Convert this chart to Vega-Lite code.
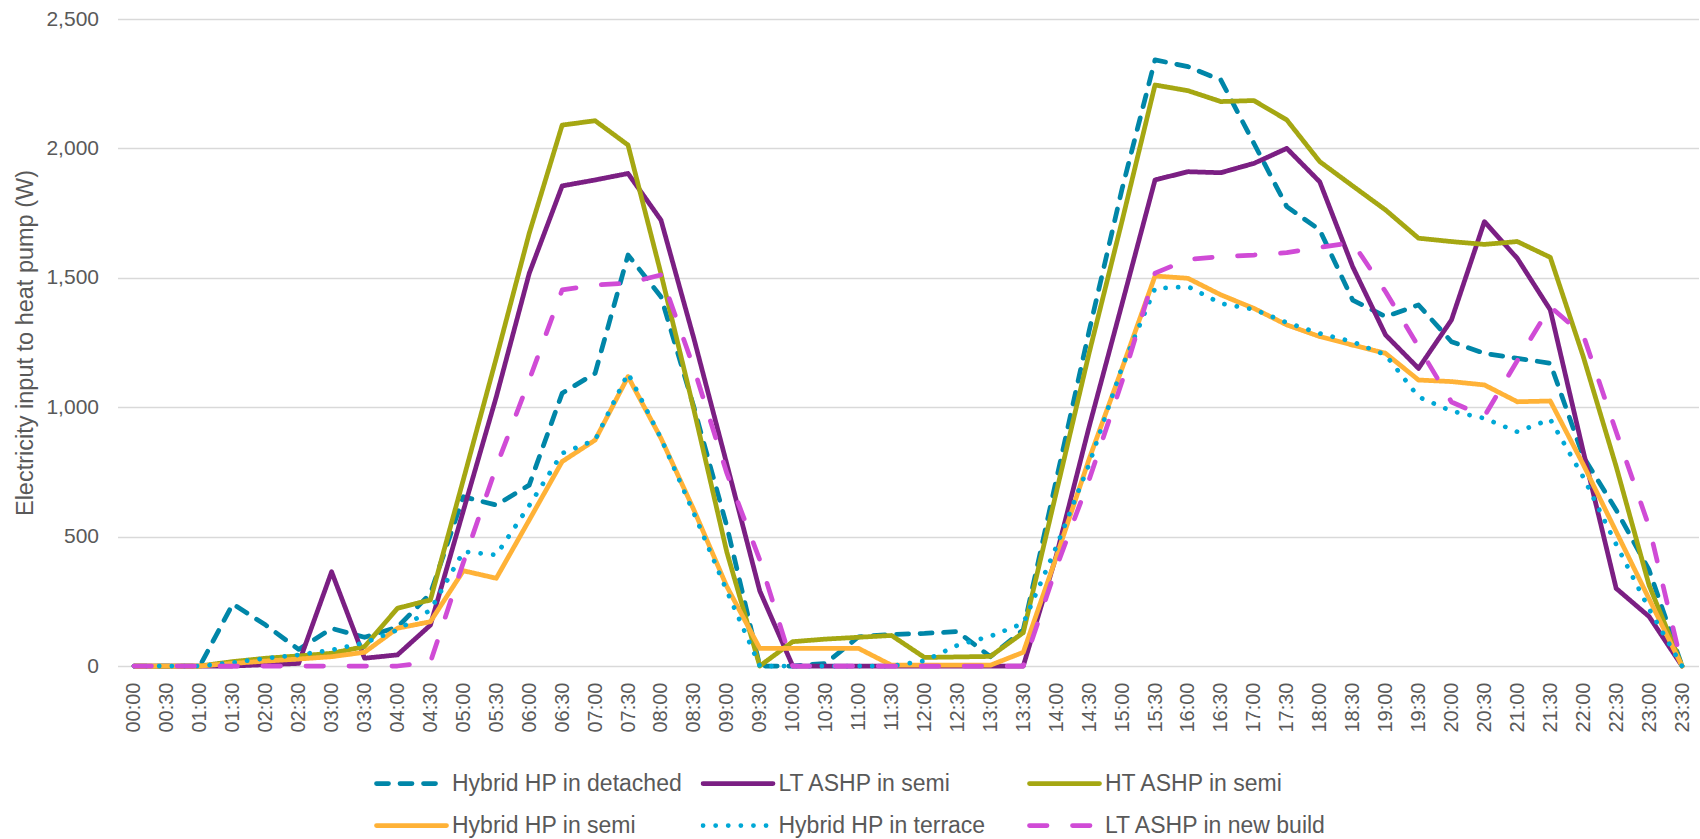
{
"$schema": "https://vega.github.io/schema/vega-lite/v6.json",
"width": 1581, "height": 647,
"autosize": {"type": "none"},
"padding": {"left": 117.5, "top": 19, "right": 1.5, "bottom": 173},
"background": "white",
"config": {"view": {"stroke": null}, "font": "Liberation Sans"},
"data": {"values": [
{"t":"00:00","s":"Hybrid HP in detached","v":0},{"t":"00:30","s":"Hybrid HP in detached","v":0},{"t":"01:00","s":"Hybrid HP in detached","v":0},{"t":"01:30","s":"Hybrid HP in detached","v":240},{"t":"02:00","s":"Hybrid HP in detached","v":158},{"t":"02:30","s":"Hybrid HP in detached","v":64},{"t":"03:00","s":"Hybrid HP in detached","v":145},{"t":"03:30","s":"Hybrid HP in detached","v":111},{"t":"04:00","s":"Hybrid HP in detached","v":150},{"t":"04:30","s":"Hybrid HP in detached","v":280},{"t":"05:00","s":"Hybrid HP in detached","v":654},{"t":"05:30","s":"Hybrid HP in detached","v":622},{"t":"06:00","s":"Hybrid HP in detached","v":699},{"t":"06:30","s":"Hybrid HP in detached","v":1054},{"t":"07:00","s":"Hybrid HP in detached","v":1131},{"t":"07:30","s":"Hybrid HP in detached","v":1588},{"t":"08:00","s":"Hybrid HP in detached","v":1427},{"t":"08:30","s":"Hybrid HP in detached","v":1000},{"t":"09:00","s":"Hybrid HP in detached","v":540},{"t":"09:30","s":"Hybrid HP in detached","v":0},{"t":"10:00","s":"Hybrid HP in detached","v":0},{"t":"10:30","s":"Hybrid HP in detached","v":10},{"t":"11:00","s":"Hybrid HP in detached","v":113},{"t":"11:30","s":"Hybrid HP in detached","v":122},{"t":"12:00","s":"Hybrid HP in detached","v":126},{"t":"12:30","s":"Hybrid HP in detached","v":133},{"t":"13:00","s":"Hybrid HP in detached","v":36},{"t":"13:30","s":"Hybrid HP in detached","v":140},{"t":"14:00","s":"Hybrid HP in detached","v":718},{"t":"14:30","s":"Hybrid HP in detached","v":1295},{"t":"15:00","s":"Hybrid HP in detached","v":1844},{"t":"15:30","s":"Hybrid HP in detached","v":2342},{"t":"16:00","s":"Hybrid HP in detached","v":2316},{"t":"16:30","s":"Hybrid HP in detached","v":2264},{"t":"17:00","s":"Hybrid HP in detached","v":2020},{"t":"17:30","s":"Hybrid HP in detached","v":1775},{"t":"18:00","s":"Hybrid HP in detached","v":1685},{"t":"18:30","s":"Hybrid HP in detached","v":1414},{"t":"19:00","s":"Hybrid HP in detached","v":1350},{"t":"19:30","s":"Hybrid HP in detached","v":1395},{"t":"20:00","s":"Hybrid HP in detached","v":1253},{"t":"20:30","s":"Hybrid HP in detached","v":1208},{"t":"21:00","s":"Hybrid HP in detached","v":1189},{"t":"21:30","s":"Hybrid HP in detached","v":1170},{"t":"22:00","s":"Hybrid HP in detached","v":809},{"t":"22:30","s":"Hybrid HP in detached","v":603},{"t":"23:00","s":"Hybrid HP in detached","v":371},{"t":"23:30","s":"Hybrid HP in detached","v":0},
{"t":"00:00","s":"LT ASHP in semi","v":0},{"t":"00:30","s":"LT ASHP in semi","v":0},{"t":"01:00","s":"LT ASHP in semi","v":0},{"t":"01:30","s":"LT ASHP in semi","v":0},{"t":"02:00","s":"LT ASHP in semi","v":5},{"t":"02:30","s":"LT ASHP in semi","v":10},{"t":"03:00","s":"LT ASHP in semi","v":364},{"t":"03:30","s":"LT ASHP in semi","v":30},{"t":"04:00","s":"LT ASHP in semi","v":43},{"t":"04:30","s":"LT ASHP in semi","v":158},{"t":"05:00","s":"LT ASHP in semi","v":600},{"t":"05:30","s":"LT ASHP in semi","v":1040},{"t":"06:00","s":"LT ASHP in semi","v":1517},{"t":"06:30","s":"LT ASHP in semi","v":1855},{"t":"07:00","s":"LT ASHP in semi","v":1878},{"t":"07:30","s":"LT ASHP in semi","v":1903},{"t":"08:00","s":"LT ASHP in semi","v":1723},{"t":"08:30","s":"LT ASHP in semi","v":1265},{"t":"09:00","s":"LT ASHP in semi","v":780},{"t":"09:30","s":"LT ASHP in semi","v":290},{"t":"10:00","s":"LT ASHP in semi","v":0},{"t":"10:30","s":"LT ASHP in semi","v":0},{"t":"11:00","s":"LT ASHP in semi","v":0},{"t":"11:30","s":"LT ASHP in semi","v":0},{"t":"12:00","s":"LT ASHP in semi","v":0},{"t":"12:30","s":"LT ASHP in semi","v":0},{"t":"13:00","s":"LT ASHP in semi","v":0},{"t":"13:30","s":"LT ASHP in semi","v":0},{"t":"14:00","s":"LT ASHP in semi","v":425},{"t":"14:30","s":"LT ASHP in semi","v":925},{"t":"15:00","s":"LT ASHP in semi","v":1400},{"t":"15:30","s":"LT ASHP in semi","v":1878},{"t":"16:00","s":"LT ASHP in semi","v":1910},{"t":"16:30","s":"LT ASHP in semi","v":1906},{"t":"17:00","s":"LT ASHP in semi","v":1942},{"t":"17:30","s":"LT ASHP in semi","v":2000},{"t":"18:00","s":"LT ASHP in semi","v":1871},{"t":"18:30","s":"LT ASHP in semi","v":1543},{"t":"19:00","s":"LT ASHP in semi","v":1279},{"t":"19:30","s":"LT ASHP in semi","v":1150},{"t":"20:00","s":"LT ASHP in semi","v":1337},{"t":"20:30","s":"LT ASHP in semi","v":1717},{"t":"21:00","s":"LT ASHP in semi","v":1575},{"t":"21:30","s":"LT ASHP in semi","v":1376},{"t":"22:00","s":"LT ASHP in semi","v":830},{"t":"22:30","s":"LT ASHP in semi","v":300},{"t":"23:00","s":"LT ASHP in semi","v":191},{"t":"23:30","s":"LT ASHP in semi","v":0},
{"t":"00:00","s":"HT ASHP in semi","v":0},{"t":"00:30","s":"HT ASHP in semi","v":0},{"t":"01:00","s":"HT ASHP in semi","v":0},{"t":"01:30","s":"HT ASHP in semi","v":17},{"t":"02:00","s":"HT ASHP in semi","v":30},{"t":"02:30","s":"HT ASHP in semi","v":39},{"t":"03:00","s":"HT ASHP in semi","v":49},{"t":"03:30","s":"HT ASHP in semi","v":75},{"t":"04:00","s":"HT ASHP in semi","v":223},{"t":"04:30","s":"HT ASHP in semi","v":255},{"t":"05:00","s":"HT ASHP in semi","v":720},{"t":"05:30","s":"HT ASHP in semi","v":1190},{"t":"06:00","s":"HT ASHP in semi","v":1672},{"t":"06:30","s":"HT ASHP in semi","v":2090},{"t":"07:00","s":"HT ASHP in semi","v":2107},{"t":"07:30","s":"HT ASHP in semi","v":2013},{"t":"08:00","s":"HT ASHP in semi","v":1516},{"t":"08:30","s":"HT ASHP in semi","v":990},{"t":"09:00","s":"HT ASHP in semi","v":440},{"t":"09:30","s":"HT ASHP in semi","v":0},{"t":"10:00","s":"HT ASHP in semi","v":94},{"t":"10:30","s":"HT ASHP in semi","v":104},{"t":"11:00","s":"HT ASHP in semi","v":111},{"t":"11:30","s":"HT ASHP in semi","v":118},{"t":"12:00","s":"HT ASHP in semi","v":33},{"t":"12:30","s":"HT ASHP in semi","v":35},{"t":"13:00","s":"HT ASHP in semi","v":37},{"t":"13:30","s":"HT ASHP in semi","v":129},{"t":"14:00","s":"HT ASHP in semi","v":670},{"t":"14:30","s":"HT ASHP in semi","v":1210},{"t":"15:00","s":"HT ASHP in semi","v":1720},{"t":"15:30","s":"HT ASHP in semi","v":2245},{"t":"16:00","s":"HT ASHP in semi","v":2223},{"t":"16:30","s":"HT ASHP in semi","v":2181},{"t":"17:00","s":"HT ASHP in semi","v":2185},{"t":"17:30","s":"HT ASHP in semi","v":2110},{"t":"18:00","s":"HT ASHP in semi","v":1949},{"t":"18:30","s":"HT ASHP in semi","v":1855},{"t":"19:00","s":"HT ASHP in semi","v":1762},{"t":"19:30","s":"HT ASHP in semi","v":1653},{"t":"20:00","s":"HT ASHP in semi","v":1640},{"t":"20:30","s":"HT ASHP in semi","v":1629},{"t":"21:00","s":"HT ASHP in semi","v":1640},{"t":"21:30","s":"HT ASHP in semi","v":1579},{"t":"22:00","s":"HT ASHP in semi","v":1196},{"t":"22:30","s":"HT ASHP in semi","v":771},{"t":"23:00","s":"HT ASHP in semi","v":312},{"t":"23:30","s":"HT ASHP in semi","v":0},
{"t":"00:00","s":"Hybrid HP in semi","v":0},{"t":"00:30","s":"Hybrid HP in semi","v":0},{"t":"01:00","s":"Hybrid HP in semi","v":0},{"t":"01:30","s":"Hybrid HP in semi","v":10},{"t":"02:00","s":"Hybrid HP in semi","v":19},{"t":"02:30","s":"Hybrid HP in semi","v":27},{"t":"03:00","s":"Hybrid HP in semi","v":36},{"t":"03:30","s":"Hybrid HP in semi","v":53},{"t":"04:00","s":"Hybrid HP in semi","v":146},{"t":"04:30","s":"Hybrid HP in semi","v":171},{"t":"05:00","s":"Hybrid HP in semi","v":368},{"t":"05:30","s":"Hybrid HP in semi","v":339},{"t":"06:00","s":"Hybrid HP in semi","v":564},{"t":"06:30","s":"Hybrid HP in semi","v":790},{"t":"07:00","s":"Hybrid HP in semi","v":873},{"t":"07:30","s":"Hybrid HP in semi","v":1118},{"t":"08:00","s":"Hybrid HP in semi","v":880},{"t":"08:30","s":"Hybrid HP in semi","v":603},{"t":"09:00","s":"Hybrid HP in semi","v":307},{"t":"09:30","s":"Hybrid HP in semi","v":68},{"t":"10:00","s":"Hybrid HP in semi","v":68},{"t":"10:30","s":"Hybrid HP in semi","v":68},{"t":"11:00","s":"Hybrid HP in semi","v":68},{"t":"11:30","s":"Hybrid HP in semi","v":3},{"t":"12:00","s":"Hybrid HP in semi","v":3},{"t":"12:30","s":"Hybrid HP in semi","v":3},{"t":"13:00","s":"Hybrid HP in semi","v":3},{"t":"13:30","s":"Hybrid HP in semi","v":53},{"t":"14:00","s":"Hybrid HP in semi","v":420},{"t":"14:30","s":"Hybrid HP in semi","v":800},{"t":"15:00","s":"Hybrid HP in semi","v":1150},{"t":"15:30","s":"Hybrid HP in semi","v":1507},{"t":"16:00","s":"Hybrid HP in semi","v":1498},{"t":"16:30","s":"Hybrid HP in semi","v":1434},{"t":"17:00","s":"Hybrid HP in semi","v":1382},{"t":"17:30","s":"Hybrid HP in semi","v":1318},{"t":"18:00","s":"Hybrid HP in semi","v":1273},{"t":"18:30","s":"Hybrid HP in semi","v":1240},{"t":"19:00","s":"Hybrid HP in semi","v":1208},{"t":"19:30","s":"Hybrid HP in semi","v":1105},{"t":"20:00","s":"Hybrid HP in semi","v":1099},{"t":"20:30","s":"Hybrid HP in semi","v":1086},{"t":"21:00","s":"Hybrid HP in semi","v":1021},{"t":"21:30","s":"Hybrid HP in semi","v":1024},{"t":"22:00","s":"Hybrid HP in semi","v":779},{"t":"22:30","s":"Hybrid HP in semi","v":519},{"t":"23:00","s":"Hybrid HP in semi","v":259},{"t":"23:30","s":"Hybrid HP in semi","v":0},
{"t":"00:00","s":"Hybrid HP in terrace","v":0},{"t":"00:30","s":"Hybrid HP in terrace","v":0},{"t":"01:00","s":"Hybrid HP in terrace","v":0},{"t":"01:30","s":"Hybrid HP in terrace","v":13},{"t":"02:00","s":"Hybrid HP in terrace","v":30},{"t":"02:30","s":"Hybrid HP in terrace","v":43},{"t":"03:00","s":"Hybrid HP in terrace","v":62},{"t":"03:30","s":"Hybrid HP in terrace","v":90},{"t":"04:00","s":"Hybrid HP in terrace","v":139},{"t":"04:30","s":"Hybrid HP in terrace","v":216},{"t":"05:00","s":"Hybrid HP in terrace","v":442},{"t":"05:30","s":"Hybrid HP in terrace","v":429},{"t":"06:00","s":"Hybrid HP in terrace","v":620},{"t":"06:30","s":"Hybrid HP in terrace","v":822},{"t":"07:00","s":"Hybrid HP in terrace","v":873},{"t":"07:30","s":"Hybrid HP in terrace","v":1131},{"t":"08:00","s":"Hybrid HP in terrace","v":880},{"t":"08:30","s":"Hybrid HP in terrace","v":590},{"t":"09:00","s":"Hybrid HP in terrace","v":290},{"t":"09:30","s":"Hybrid HP in terrace","v":0},{"t":"10:00","s":"Hybrid HP in terrace","v":0},{"t":"10:30","s":"Hybrid HP in terrace","v":0},{"t":"11:00","s":"Hybrid HP in terrace","v":0},{"t":"11:30","s":"Hybrid HP in terrace","v":0},{"t":"12:00","s":"Hybrid HP in terrace","v":20},{"t":"12:30","s":"Hybrid HP in terrace","v":80},{"t":"13:00","s":"Hybrid HP in terrace","v":115},{"t":"13:30","s":"Hybrid HP in terrace","v":165},{"t":"14:00","s":"Hybrid HP in terrace","v":460},{"t":"14:30","s":"Hybrid HP in terrace","v":780},{"t":"15:00","s":"Hybrid HP in terrace","v":1155},{"t":"15:30","s":"Hybrid HP in terrace","v":1459},{"t":"16:00","s":"Hybrid HP in terrace","v":1466},{"t":"16:30","s":"Hybrid HP in terrace","v":1401},{"t":"17:00","s":"Hybrid HP in terrace","v":1378},{"t":"17:30","s":"Hybrid HP in terrace","v":1327},{"t":"18:00","s":"Hybrid HP in terrace","v":1285},{"t":"18:30","s":"Hybrid HP in terrace","v":1253},{"t":"19:00","s":"Hybrid HP in terrace","v":1202},{"t":"19:30","s":"Hybrid HP in terrace","v":1040},{"t":"20:00","s":"Hybrid HP in terrace","v":985},{"t":"20:30","s":"Hybrid HP in terrace","v":957},{"t":"21:00","s":"Hybrid HP in terrace","v":905},{"t":"21:30","s":"Hybrid HP in terrace","v":953},{"t":"22:00","s":"Hybrid HP in terrace","v":730},{"t":"22:30","s":"Hybrid HP in terrace","v":470},{"t":"23:00","s":"Hybrid HP in terrace","v":220},{"t":"23:30","s":"Hybrid HP in terrace","v":0},
{"t":"00:00","s":"LT ASHP in new build","v":0},{"t":"00:30","s":"LT ASHP in new build","v":0},{"t":"01:00","s":"LT ASHP in new build","v":0},{"t":"01:30","s":"LT ASHP in new build","v":0},{"t":"02:00","s":"LT ASHP in new build","v":0},{"t":"02:30","s":"LT ASHP in new build","v":0},{"t":"03:00","s":"LT ASHP in new build","v":0},{"t":"03:30","s":"LT ASHP in new build","v":0},{"t":"04:00","s":"LT ASHP in new build","v":0},{"t":"04:30","s":"LT ASHP in new build","v":15},{"t":"05:00","s":"LT ASHP in new build","v":400},{"t":"05:30","s":"LT ASHP in new build","v":770},{"t":"06:00","s":"LT ASHP in new build","v":1105},{"t":"06:30","s":"LT ASHP in new build","v":1453},{"t":"07:00","s":"LT ASHP in new build","v":1472},{"t":"07:30","s":"LT ASHP in new build","v":1479},{"t":"08:00","s":"LT ASHP in new build","v":1511},{"t":"08:30","s":"LT ASHP in new build","v":1150},{"t":"09:00","s":"LT ASHP in new build","v":745},{"t":"09:30","s":"LT ASHP in new build","v":410},{"t":"10:00","s":"LT ASHP in new build","v":0},{"t":"10:30","s":"LT ASHP in new build","v":0},{"t":"11:00","s":"LT ASHP in new build","v":0},{"t":"11:30","s":"LT ASHP in new build","v":0},{"t":"12:00","s":"LT ASHP in new build","v":0},{"t":"12:30","s":"LT ASHP in new build","v":0},{"t":"13:00","s":"LT ASHP in new build","v":0},{"t":"13:30","s":"LT ASHP in new build","v":0},{"t":"14:00","s":"LT ASHP in new build","v":380},{"t":"14:30","s":"LT ASHP in new build","v":720},{"t":"15:00","s":"LT ASHP in new build","v":1100},{"t":"15:30","s":"LT ASHP in new build","v":1518},{"t":"16:00","s":"LT ASHP in new build","v":1571},{"t":"16:30","s":"LT ASHP in new build","v":1582},{"t":"17:00","s":"LT ASHP in new build","v":1588},{"t":"17:30","s":"LT ASHP in new build","v":1597},{"t":"18:00","s":"LT ASHP in new build","v":1618},{"t":"18:30","s":"LT ASHP in new build","v":1636},{"t":"19:00","s":"LT ASHP in new build","v":1446},{"t":"19:30","s":"LT ASHP in new build","v":1234},{"t":"20:00","s":"LT ASHP in new build","v":1020},{"t":"20:30","s":"LT ASHP in new build","v":965},{"t":"21:00","s":"LT ASHP in new build","v":1180},{"t":"21:30","s":"LT ASHP in new build","v":1388},{"t":"22:00","s":"LT ASHP in new build","v":1279},{"t":"22:30","s":"LT ASHP in new build","v":905},{"t":"23:00","s":"LT ASHP in new build","v":538},{"t":"23:30","s":"LT ASHP in new build","v":0}
]},
"mark": {"type": "line", "strokeWidth": 4.75, "strokeCap": "round", "strokeJoin": "round"},
"encoding": {
  "x": {"field": "t", "type": "ordinal", "title": null,
    "axis": {"labelAngle": -90, "labelFontSize": 20, "labelColor": "#595959", "labelPadding": 16, "ticks": false, "tickSize": 0, "domain": false, "grid": false}},
  "y": {"field": "v", "type": "quantitative", "scale": {"domain": [0, 2500], "nice": false},
    "axis": {"values": [0, 500, 1000, 1500, 2000, 2500], "format": ",d", "title": "Electricity input to heat pump (W)", "titleFontSize": 23.5, "titleFontWeight": "normal", "titleColor": "#595959", "titleX": -85, "titleY": 323.5, "titleBaseline": "alphabetic", "titleAlign": "center", "titleAngle": -90,
      "labelFontSize": 21, "labelColor": "#595959", "labelPadding": 19, "ticks": false, "tickSize": 0, "domain": false, "gridColor": "#D9D9D9", "gridWidth": 1.5}},
  "color": {"field": "s", "type": "nominal",
    "scale": {"domain": ["Hybrid HP in detached", "LT ASHP in semi", "HT ASHP in semi", "Hybrid HP in semi", "Hybrid HP in terrace", "LT ASHP in new build"],
      "range": ["#0086A8", "#7B1F83", "#A5A712", "#FFB237", "#00A8D6", "#D04BD6"]},
    "legend": {"title": null, "orient": "none", "legendX": 256.5, "legendY": 751, "direction": "horizontal", "columns": 3, "gridAlign": "all", "columnPadding": 17.5, "rowPadding": 15, "clipHeight": 27, "symbolType": "stroke", "symbolSize": 4900, "symbolStrokeWidth": 4.75, "labelFontSize": 23, "labelColor": "#595959", "labelLimit": 500, "labelOffset": 3, "padding": 0,
      "encode": {"symbols": {"update": {"strokeCap": {"value": "round"}}}}}},
  "strokeDash": {"field": "s", "type": "nominal",
    "scale": {"domain": ["Hybrid HP in detached", "LT ASHP in semi", "HT ASHP in semi", "Hybrid HP in semi", "Hybrid HP in terrace", "LT ASHP in new build"],
      "range": [[12, 11.5], [1, 0], [1, 0], [1, 0], [0.1, 12.5], [17.5, 25.5]]},
    "legend": {"title": null, "orient": "none", "legendX": 256.5, "legendY": 751, "direction": "horizontal", "columns": 3, "gridAlign": "all", "columnPadding": 17.5, "rowPadding": 15, "clipHeight": 27, "symbolType": "stroke", "symbolSize": 4900, "symbolStrokeWidth": 4.75, "labelFontSize": 23, "labelColor": "#595959", "labelLimit": 500, "labelOffset": 3, "padding": 0,
      "encode": {"symbols": {"update": {"strokeCap": {"value": "round"}}}}}}
}
}
